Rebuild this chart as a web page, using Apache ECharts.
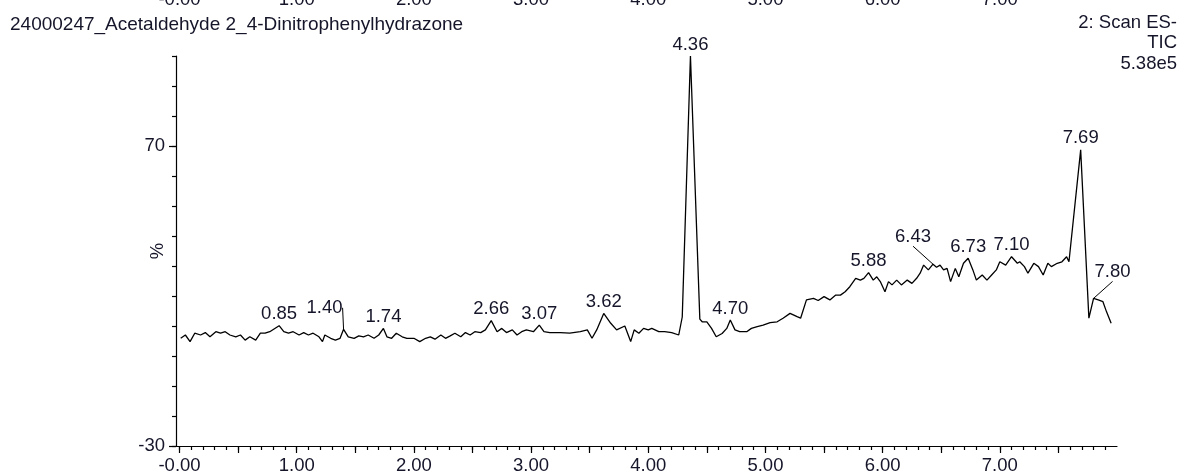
<!DOCTYPE html>
<html>
<head>
<meta charset="utf-8">
<script src="https://cdn.jsdelivr.net/npm/echarts@6/dist/echarts.min.js"></script>
<style>html,body{margin:0;padding:0;background:#fff;}#c{width:1185px;height:475px;}</style>
</head>
<body>
<div id="c"></div>
<script>
// ---- data ----
const times = [0.01,0.05,0.09,0.13,0.18,0.22,0.26,0.31,0.35,0.39,0.43,0.48,0.52,0.56,0.60,0.65,0.69,0.73,0.77,0.85,0.89,0.93,0.97,1.02,1.06,1.10,1.14,1.19,1.22,1.24,1.29,1.33,1.37,1.40,1.44,1.49,1.53,1.57,1.61,1.66,1.70,1.74,1.77,1.81,1.85,1.90,1.94,2.00,2.05,2.10,2.14,2.18,2.23,2.27,2.31,2.35,2.40,2.44,2.48,2.52,2.57,2.61,2.66,2.71,2.75,2.79,2.84,2.88,2.92,2.96,3.02,3.07,3.11,3.16,3.25,3.33,3.42,3.48,3.52,3.56,3.62,3.68,3.73,3.80,3.85,3.88,3.92,3.96,4.00,4.03,4.09,4.14,4.20,4.26,4.29,4.36,4.44,4.46,4.50,4.54,4.58,4.63,4.67,4.70,4.74,4.78,4.84,4.88,4.93,4.98,5.04,5.10,5.15,5.21,5.27,5.30,5.35,5.41,5.45,5.50,5.55,5.60,5.64,5.68,5.72,5.77,5.81,5.84,5.88,5.92,5.95,5.98,6.02,6.05,6.08,6.12,6.16,6.21,6.25,6.29,6.32,6.35,6.39,6.43,6.46,6.49,6.52,6.55,6.58,6.62,6.65,6.69,6.73,6.77,6.80,6.85,6.89,6.93,6.97,7.00,7.05,7.10,7.15,7.17,7.21,7.24,7.29,7.33,7.37,7.41,7.44,7.49,7.53,7.57,7.59,7.69,7.76,7.80,7.84,7.88,7.91,7.95];
const intensity = [5.9,7.0,4.8,7.6,7.0,7.8,6.4,8.1,7.6,8.1,7.0,6.4,7.0,5.3,6.4,5.3,7.6,7.6,8.1,10.1,8.1,7.6,8.1,7.0,7.8,7.0,7.6,6.4,4.8,7.0,5.9,5.3,5.9,8.9,6.4,5.9,6.7,6.4,7.0,5.9,7.0,9.2,6.4,5.9,7.6,6.4,5.9,5.9,4.8,5.9,6.4,5.6,7.0,5.9,6.7,7.6,6.4,7.8,7.0,8.1,7.8,8.7,11.8,8.1,9.2,7.8,8.7,7.0,8.1,8.7,8.1,10.3,8.1,7.8,7.8,7.6,8.1,8.7,5.9,8.7,14.2,10.9,8.7,10.0,4.8,8.7,7.6,9.2,8.7,9.2,8.1,8.1,7.8,7.0,13.0,100,12.3,11.4,11.4,9.2,6.4,7.5,9.2,12.0,8.7,8.1,8.1,9.2,9.8,10.3,11.1,11.4,12.6,14.2,13.1,12.6,18.7,19.2,18.5,19.8,18.7,20.3,20.3,21.4,23.1,25.9,25.3,25.9,27.8,25.3,26.4,24.8,21.4,24.8,23.7,25.3,23.7,25.3,24.2,25.9,27.6,30.3,28.7,30.6,29.6,30.3,28.7,29.2,24.8,29.2,26.4,30.9,32.6,28.7,25.3,27.0,25.3,27.0,28.7,31.4,30.3,33.1,30.9,31.4,29.8,27.6,30.9,29.8,27.0,30.9,29.8,30.9,31.4,33.1,31.4,68.7,12.6,19.2,18.7,18.1,14.8,10.9];
const peakTimes = [0.85,1.40,1.74,2.66,3.07,3.62,4.36,4.70,5.88,6.43,6.73,7.10,7.69,7.80];
const shiftedPeaks = [1.40, 6.43, 7.80];
const xLabelValues = [0,1,2,3,4,5,6,7];
const yLabelValues = [-30,70];
const titleText = '24000247_Acetaldehyde 2_4-Dinitrophenylhydrazone';
const infoText = ['2: Scan ES-','TIC','5.38e5'];

// label displacement (layout only)
const labelShift = {'1.40':[-19,-10], '6.43':[-20,-16], '7.80':[19,-15]};

const majorTicks = []; for (let i = 0; i <= 15; i++) majorTicks.push(+(i*0.5).toFixed(2));
const minorTicks = []; for (let i = 0; i <= 79; i++) minorTicks.push(+(i*0.1).toFixed(2));
const yMinorTicks = []; for (let v = -30; v <= 100; v += 10) yMinorTicks.push(v);

const FONT = 'Liberation Sans, Arial, sans-serif';
const TXT = '#15152a';
const FS = 18.5;

const seriesData = times.map((t, i) => {
  const isPeak = peakTimes.indexOf(t) >= 0;
  const isShift = shiftedPeaks.indexOf(t) >= 0;
  if (!isPeak) return [t, intensity[i]];
  return {
    value: [t, intensity[i]],
    label: {show: true},
    labelLine: {show: isShift}
  };
});

const fmtX = v => (v === 0 ? '-0.00' : v.toFixed(2));

const chart = echarts.init(document.getElementById('c'), null, {renderer: 'canvas'});
chart.setOption({
  animation: false,
  backgroundColor: '#fff',
  title: {
    text: titleText, left: 5, top: 10,
    textStyle: {fontFamily: FONT, fontSize: 19, fontWeight: 'normal', color: TXT}
  },
  graphic: infoText.map((s, i) => ({
    type: 'text', right: 8, top: 13 + i * 20.5,
    style: {text: s, fontFamily: FONT, fontSize: FS, fill: TXT}
  })),
  grid: {left: 176, right: 68, top: 56, bottom: 29, containLabel: false, outerBoundsMode: 'none'},
  xAxis: [
    {type: 'value', min: -0.03, max: 8.0, position: 'bottom',
     axisLine: {show: true, onZero: false, lineStyle: {color: '#000', width: 1.2}},
     axisTick: {show: true, customValues: minorTicks, length: 4, lineStyle: {color: '#000', width: 1.2}},
     axisLabel: {show: false}, splitLine: {show: false}},
    {type: 'value', min: -0.03, max: 8.0, position: 'bottom',
     axisLine: {show: false, onZero: false},
     axisTick: {show: true, customValues: majorTicks, length: 7, lineStyle: {color: '#000', width: 1.2}},
     axisLabel: {show: true, customValues: xLabelValues, formatter: fmtX, margin: 10,
                 fontFamily: FONT, fontSize: FS, color: TXT},
     splitLine: {show: false}},
    {type: 'value', min: -0.03, max: 8.0, position: 'top', offset: 47,
     axisLine: {show: false, onZero: false}, axisTick: {show: false},
     axisLabel: {show: true, customValues: xLabelValues, formatter: fmtX, margin: 0,
                 fontFamily: FONT, fontSize: FS, color: TXT},
     splitLine: {show: false}}
  ],
  yAxis: [
    {type: 'value', min: -30, max: 100, position: 'left',
     axisLine: {show: true, onZero: false, lineStyle: {color: '#000', width: 1.2}},
     axisTick: {show: true, customValues: yMinorTicks, length: 4, lineStyle: {color: '#000', width: 1.2}},
     axisLabel: {show: false}, splitLine: {show: false}},
    {type: 'value', min: -30, max: 100, position: 'left', offset: 0,
     name: '%', nameLocation: 'middle', nameGap: 9, nameRotate: 90, nameMoveOverlap: false,
     nameTextStyle: {fontFamily: FONT, fontSize: FS, color: TXT},
     axisLine: {show: false, onZero: false},
     axisTick: {show: true, customValues: yLabelValues, length: 7, lineStyle: {color: '#000', width: 1.2}},
     axisLabel: {show: true, customValues: yLabelValues, margin: 11, fontFamily: FONT, fontSize: FS, color: TXT},
     splitLine: {show: false}}
  ],
  series: [{
    type: 'line', xAxisIndex: 0, yAxisIndex: 0, silent: true,
    data: seriesData,
    symbol: 'circle', symbolSize: 0.01, showSymbol: true, showAllSymbol: true,
    lineStyle: {color: '#000', width: 1.3},
    itemStyle: {color: '#000'},
    label: {show: false, position: 'top', distance: 2,
            formatter: p => p.value[0].toFixed(2),
            fontFamily: FONT, fontSize: FS, color: TXT},
    labelLine: {show: false, lineStyle: {color: '#000', width: 1}},
    labelLayout: function (params) {
      const t = times[params.dataIndex];
      const s = labelShift[t.toFixed(2)];
      if (!s) return {};
      return {dx: s[0], dy: s[1]};
    },
    emphasis: {disabled: true}
  }]
});
</script>
</body>
</html>
